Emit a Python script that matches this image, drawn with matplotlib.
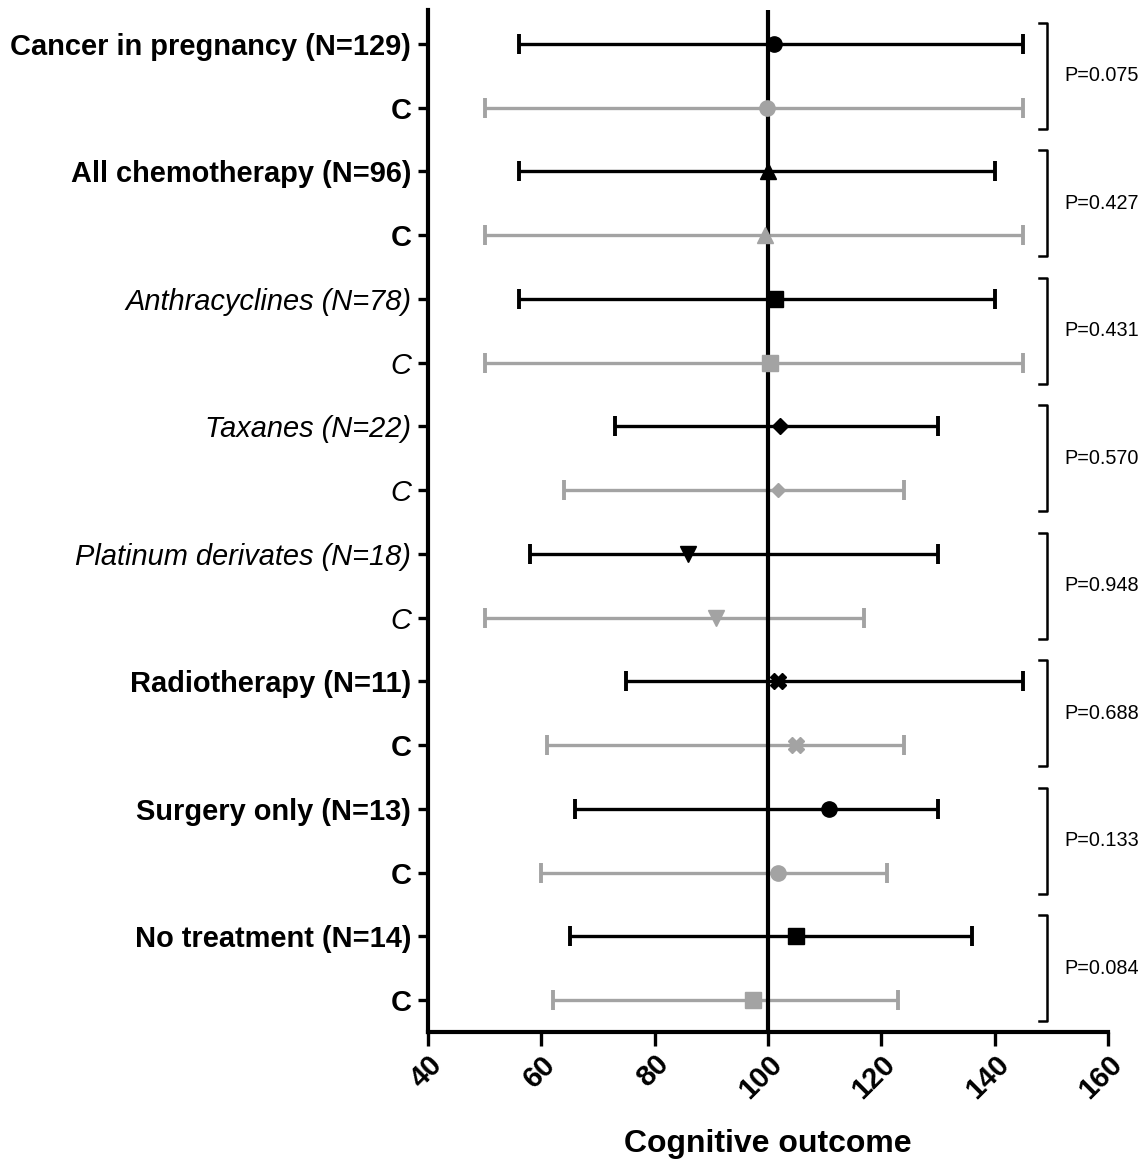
import matplotlib
matplotlib.use("Agg")
import matplotlib.pyplot as plt
import numpy as np

plt.rcParams['font.family'] = ['Liberation Sans', 'DejaVu Sans']

# data
groups = ["Cancer in pregnancy (N=129)", "All chemotherapy (N=96)", "Anthracyclines (N=78)",
          "Taxanes (N=22)", "Platinum derivates (N=18)", "Radiotherapy (N=11)",
          "Surgery only (N=13)", "No treatment (N=14)"]
italic_groups = [False, False, True, True, True, False, False, False]
control_label = "C"

grp_mean = [101.0, 100.0, 101.3, 102.2, 85.8, 101.8, 110.8, 104.9]
grp_low = [56, 56, 56, 73, 58, 75, 66, 65]
grp_high = [145, 140, 140, 130, 130, 145, 130, 136]

ctl_mean = [99.8, 99.5, 100.3, 101.8, 90.8, 104.9, 101.8, 97.3]
ctl_low = [50, 50, 50, 64, 50, 61, 60, 62]
ctl_high = [145, 145, 145, 124, 117, 124, 121, 123]

p_values = ["P=0.075", "P=0.427", "P=0.431", "P=0.570", "P=0.948", "P=0.688", "P=0.133", "P=0.084"]

x_ticks = [40, 60, 80, 100, 120, 140, 160]
ref_value = 100
x_label = "Cognitive outcome"

# styles
markers = ['o', '^', 's', 'D', 'v', 'X', 'o', 's']
msizes = [11, 11, 11, 8, 11, 11, 11, 11]
black = '#000000'
grey = '#a3a3a3'
narrow = ['Liberation Sans Narrow', 'Liberation Sans', 'DejaVu Sans']

fig = plt.figure(figsize=(11.45, 11.65), dpi=100)
ax = fig.add_axes([0.3738, 0.1142, 0.5939, 0.8772])

n = len(groups)
for i in range(n):
    yg = 2 * i
    yc = 2 * i + 1
    for y, m, lo, hi, col in [(yg, grp_mean[i], grp_low[i], grp_high[i], black),
                              (yc, ctl_mean[i], ctl_low[i], ctl_high[i], grey)]:
        ax.errorbar([m], [y], xerr=[[m - lo], [hi - m]], fmt='none', ecolor=col,
                    elinewidth=2.4, capsize=7, capthick=2.8, zorder=1)
    ax.plot(grp_mean[i], yg, marker=markers[i], ms=msizes[i], color=black,
            mec=black, ls='none', zorder=3)
    ms_c = msizes[i] - 1 if markers[i] == 'D' else msizes[i]
    ax.plot(ctl_mean[i], yc, marker=markers[i], ms=ms_c, color=grey,
            mec=grey, ls='none', zorder=3)

    # bracket with p-value
    bx = 149.2
    top, bot = yg - 0.33, yc + 0.33
    ax.plot([bx - 1.4, bx, bx, bx - 1.4], [top, top, bot, bot], color=black,
            lw=1.8, clip_on=False, zorder=2)
    ax.text(152.3, yg + 0.5, p_values[i], ha='left', va='center', fontsize=14.3,
            family=narrow, clip_on=False)

ax.axvline(ref_value, color=black, lw=3, zorder=2)

ax.set_xlim(x_ticks[0], x_ticks[-1])
ax.set_ylim(2 * n - 0.5, -0.53)
ax.set_xticks(x_ticks)
ax.set_xticklabels([str(t) for t in x_ticks], rotation=45, ha='right',
                   rotation_mode='anchor', fontsize=21, fontweight='bold', family=narrow)

ylabels = []
for g in groups:
    ylabels += [g, control_label]
ax.set_yticks(range(2 * n))
ax.set_yticklabels(ylabels, fontsize=20.9)
for j, t in enumerate(ax.get_yticklabels()):
    if italic_groups[j // 2]:
        t.set_fontstyle('italic')
    else:
        t.set_fontweight('bold')

for s in ['top', 'right']:
    ax.spines[s].set_visible(False)
for s in ['left', 'bottom']:
    ax.spines[s].set_linewidth(3)
ax.tick_params(axis='y', length=7, width=2.4, pad=5)
ax.tick_params(axis='x', length=10, width=2.4, pad=3)

ax.set_xlabel(x_label, fontsize=23, fontweight='bold', family=narrow, labelpad=18)

fig.savefig("out.png", dpi=100)
